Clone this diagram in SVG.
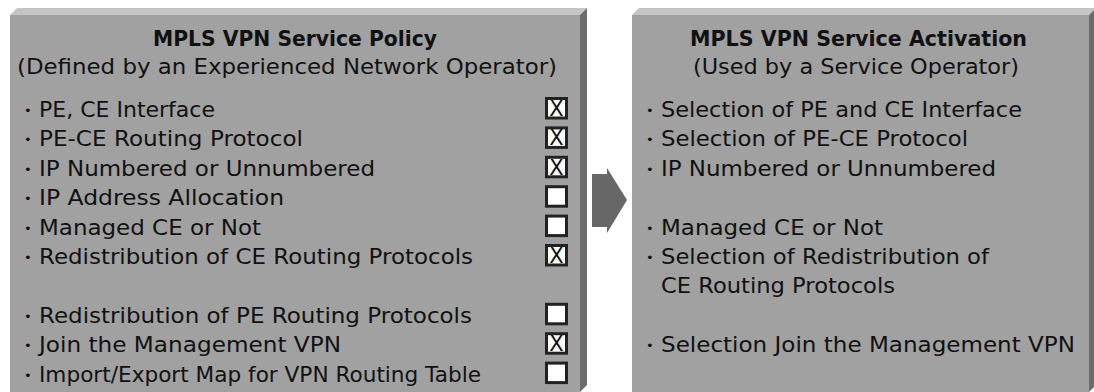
<svg xmlns="http://www.w3.org/2000/svg" width="1094" height="392" viewBox="0 0 1094 392">
  <style>
    .face { fill: #a1a1a1; }
    .top { fill: #c5c5c5; }
    .side { fill: #6b6b6b; }
    .t { font-family: "DejaVu Sans", "Liberation Sans", sans-serif; font-size: 22px; fill: #111; }
    .h { font-weight: bold; font-size: 20.5px; text-anchor: middle; }
    .s { text-anchor: middle; }
    .b { font-family: "DejaVu Sans", sans-serif; font-size: 13px; fill: #111; }
    .cb { fill: #fff; stroke: #222; stroke-width: 3; }
    .x { font-family: "DejaVu Sans", sans-serif; font-size: 21px; fill: #111; text-anchor: middle; }
  </style>

  <!-- left panel: policy -->
  <g id="policy">
    <polygon class="top" points="10,15 17,8 587,8 580,15"/>
    <polygon class="side" points="580,15 587,8 587,385 580,392"/>
    <rect class="face" x="10" y="15" width="570" height="377"/>
    <text class="t h" x="295" y="46" textLength="284" lengthAdjust="spacingAndGlyphs">MPLS VPN Service Policy</text>
    <text class="t s" x="287" y="73.5" textLength="540" lengthAdjust="spacingAndGlyphs">(Defined by an Experienced Network Operator)</text>

    <g class="b">
      <text x="24" y="115">•</text>
      <text x="24" y="144.4">•</text>
      <text x="24" y="173.8">•</text>
      <text x="24" y="203.2">•</text>
      <text x="24" y="232.6">•</text>
      <text x="24" y="262">•</text>
      <text x="24" y="320.8">•</text>
      <text x="24" y="350.2">•</text>
      <text x="24" y="379.6">•</text>
    </g>
    <text class="t" x="39" y="117" textLength="176" lengthAdjust="spacingAndGlyphs">PE, CE Interface</text>
    <text class="t" x="39" y="146.4" textLength="264" lengthAdjust="spacingAndGlyphs">PE-CE Routing Protocol</text>
    <text class="t" x="39" y="175.8" textLength="336" lengthAdjust="spacingAndGlyphs">IP Numbered or Unnumbered</text>
    <text class="t" x="39" y="205.2" textLength="245" lengthAdjust="spacingAndGlyphs">IP Address Allocation</text>
    <text class="t" x="39" y="234.6" textLength="222" lengthAdjust="spacingAndGlyphs">Managed CE or Not</text>
    <text class="t" x="39" y="264" textLength="434" lengthAdjust="spacingAndGlyphs">Redistribution of CE Routing Protocols</text>
    <text class="t" x="39" y="322.8" textLength="433" lengthAdjust="spacingAndGlyphs">Redistribution of PE Routing Protocols</text>
    <text class="t" x="39" y="352.2" textLength="302" lengthAdjust="spacingAndGlyphs">Join the Management VPN</text>
    <text class="t" x="39" y="381.6" textLength="442" lengthAdjust="spacingAndGlyphs">Import/Export Map for VPN Routing Table</text>

    <!-- check boxes -->
    <rect class="cb" x="546.5" y="98.5" width="20" height="19.5"/>
    <rect class="cb" x="546.5" y="127.9" width="20" height="19.5"/>
    <rect class="cb" x="546.5" y="157.3" width="20" height="19.5"/>
    <rect class="cb" x="546.5" y="186.7" width="20" height="19.5"/>
    <rect class="cb" x="546.5" y="216.1" width="20" height="19.5"/>
    <rect class="cb" x="546.5" y="245.5" width="20" height="19.5"/>
    <rect class="cb" x="546.5" y="304.3" width="20" height="19.5"/>
    <rect class="cb" x="546.5" y="333.7" width="20" height="19.5"/>
    <rect class="cb" x="546.5" y="363.1" width="20" height="19.5"/>
    <text class="x" x="556.5" y="115.8">X</text>
    <text class="x" x="556.5" y="145.2">X</text>
    <text class="x" x="556.5" y="174.6">X</text>
    <text class="x" x="556.5" y="262.8">X</text>
    <text class="x" x="556.5" y="351">X</text>
  </g>

  <!-- connector: block arrow between panels -->
  <g id="connectors">
    <polygon fill="#676767" points="592,174 607,174 607,168 627,200 607,233 607,227 592,227"/>
  </g>

  <!-- right panel: activation -->
  <g id="activation">
    <polygon class="top" points="632,15 639,8 1096,8 1089,15"/>
    <polygon class="side" points="1089,15 1096,8 1096,385 1089,392"/>
    <rect class="face" x="632" y="15" width="457" height="377"/>
    <text class="t h" x="858.5" y="46" textLength="337" lengthAdjust="spacingAndGlyphs">MPLS VPN Service Activation</text>
    <text class="t s" x="856" y="73.5" textLength="326" lengthAdjust="spacingAndGlyphs">(Used by a Service Operator)</text>

    <g class="b">
      <text x="646" y="115">•</text>
      <text x="646" y="144.4">•</text>
      <text x="646" y="173.8">•</text>
      <text x="646" y="232.6">•</text>
      <text x="646" y="262">•</text>
      <text x="646" y="350.2">•</text>
    </g>
    <text class="t" x="661" y="117" textLength="361" lengthAdjust="spacingAndGlyphs">Selection of PE and CE Interface</text>
    <text class="t" x="661" y="146.4" textLength="307" lengthAdjust="spacingAndGlyphs">Selection of PE-CE Protocol</text>
    <text class="t" x="661" y="175.8" textLength="335" lengthAdjust="spacingAndGlyphs">IP Numbered or Unnumbered</text>
    <text class="t" x="661" y="234.6" textLength="222" lengthAdjust="spacingAndGlyphs">Managed CE or Not</text>
    <text class="t" x="661" y="264" textLength="328" lengthAdjust="spacingAndGlyphs">Selection of Redistribution of</text>
    <text class="t" x="661" y="293.4" textLength="234" lengthAdjust="spacingAndGlyphs">CE Routing Protocols</text>
    <text class="t" x="661" y="352.2" textLength="414" lengthAdjust="spacingAndGlyphs">Selection Join the Management VPN</text>
  </g>
</svg>
